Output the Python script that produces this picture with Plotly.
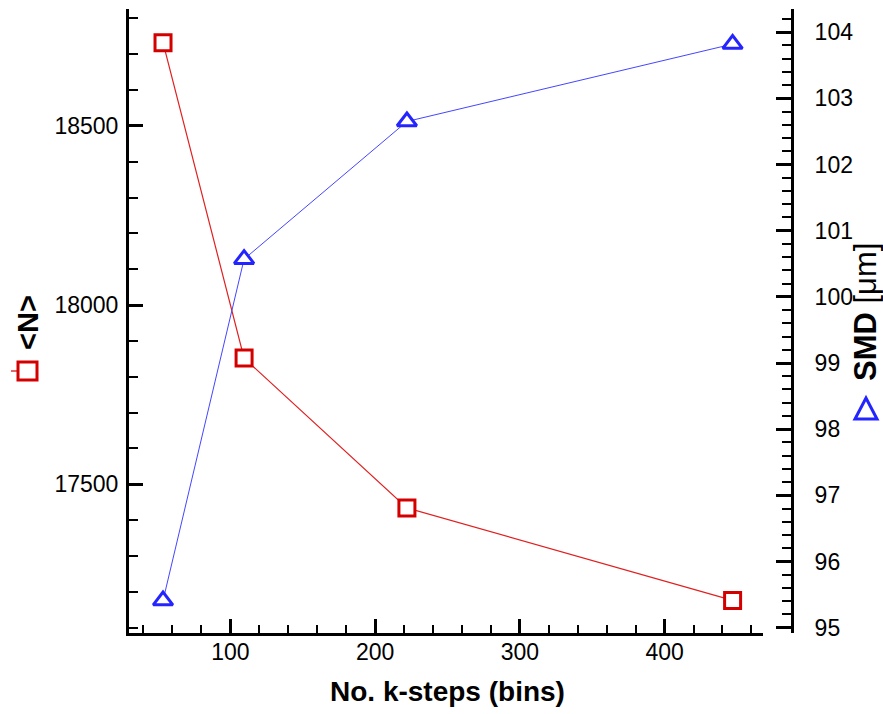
import plotly.graph_objects as go

# Data: number of k-steps (bins) vs. mean droplet count <N> and SMD
k_steps = [53.5, 109.5, 222, 447]
n_mean = [18732, 17852, 17434, 17176]
smd_um = [95.41, 100.57, 102.65, 103.82]

x_range = [30, 468]
n_range = [17085, 18826]
smd_range = [94.92, 104.35]

RED = "#d40000"
RED_LINE = "#e02020"
BLUE = "#2424ff"
BLUE_LINE = "#4545ff"
FONT = "Liberation Sans, Arial, Helvetica, sans-serif"

W, H = 883, 714
ML, MR, MT, MB = 129, 91, 9, 81
PW, PH = W - ML - MR, H - MT - MB


def px(xpix):
    return (xpix - ML) / PW


def py(ypix):
    return (H - MB - ypix) / PH


fig = go.Figure()

fig.add_trace(go.Scatter(
    x=k_steps, y=n_mean, yaxis="y", mode="lines+markers",
    line=dict(color=RED_LINE, width=1.2),
    marker=dict(symbol="square", size=16, color="white",
                line=dict(color=RED, width=3)),
    showlegend=False, cliponaxis=False,
))
fig.add_trace(go.Scatter(
    x=k_steps, y=smd_um, yaxis="y2", mode="lines+markers",
    line=dict(color=BLUE_LINE, width=1),
    marker=dict(symbol="triangle-up", size=17, color="white",
                line=dict(color=BLUE, width=3)),
    showlegend=False, cliponaxis=False,
))

axis_common = dict(
    showline=True, linecolor="black", linewidth=3,
    showgrid=False, zeroline=False,
    ticks="inside", tickcolor="black", tickwidth=3,
    tickfont=dict(family=FONT, size=23, color="black"),
)

fig.update_layout(
    width=W, height=H,
    margin=dict(l=ML, r=MR, t=MT, b=MB),
    paper_bgcolor="white", plot_bgcolor="white",
    font=dict(family=FONT, color="black"),
    xaxis=dict(
        domain=[0, (763 - ML) / PW], range=x_range,
        tick0=0, dtick=100, ticklen=14, ticklabelstandoff=-4,
        tickformat="d",
        minor=dict(ticks="inside", dtick=20, ticklen=8, tickwidth=1.5,
                   tickcolor="black"),
        **axis_common,
    ),
    yaxis=dict(
        range=n_range, tick0=0, dtick=500, ticklen=14,
        ticklabelstandoff=3, tickformat="d",
        minor=dict(ticks="inside", dtick=100, ticklen=9, tickwidth=1.5,
                   tickcolor="black"),
        **axis_common,
    ),
    yaxis2=dict(
        range=smd_range, overlaying="y", side="right",
        anchor="free", position=1.0,
        tick0=0, dtick=1, ticklen=15, ticklabelstandoff=16,
        tickformat="d",
        minor=dict(ticks="inside", dtick=0.2, ticklen=9, tickwidth=1.5,
                   tickcolor="black"),
        **axis_common,
    ),
)

# Axis titles
fig.add_annotation(
    text="<b>No. k-steps (bins)</b>", xref="paper", yref="paper",
    x=px(447), y=py(692), showarrow=False,
    xanchor="center", yanchor="middle",
    font=dict(family=FONT, size=28, color="black"),
)
fig.add_annotation(
    text="<b>&lt;N&gt;</b>", xref="paper", yref="paper",
    x=px(28), y=py(323), showarrow=False, textangle=-90,
    xanchor="center", yanchor="middle",
    font=dict(family=FONT, size=29, color="black"),
)
fig.add_annotation(
    text="<b>SMD</b> [μm]", xref="paper", yref="paper",
    x=px(865), y=py(312), showarrow=False, textangle=-90,
    xanchor="center", yanchor="middle",
    font=dict(family=FONT, size=31, color="black"),
)

# Series symbols beside the axis titles
fig.add_shape(type="line", xref="paper", yref="paper",
              x0=px(11), x1=px(17), y0=py(371), y1=py(371),
              line=dict(color=RED, width=1.2))
fig.add_shape(type="rect", xref="paper", yref="paper",
              x0=px(18), x1=px(37), y0=py(362), y1=py(380),
              fillcolor="white", line=dict(color=RED, width=3))
tri = "M {:.5f} {:.5f} L {:.5f} {:.5f} L {:.5f} {:.5f} Z".format(
    px(855), py(419), px(877), py(419), px(866), py(398))
fig.add_shape(type="path", xref="paper", yref="paper", path=tri,
              fillcolor="white", line=dict(color=BLUE, width=3))

fig.write_html("out.html")
